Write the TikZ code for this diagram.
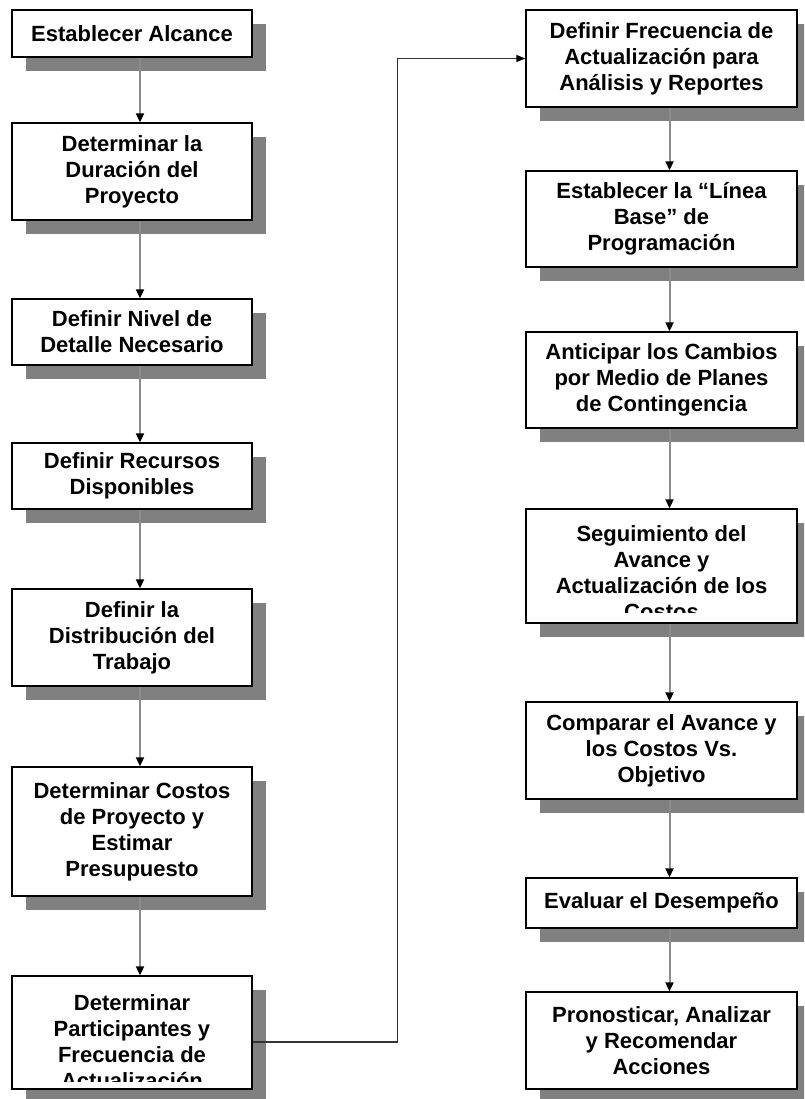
\documentclass[tikz,border=0pt]{standalone}
\usepackage{fontspec}
\setmainfont{Liberation Sans}
\usetikzlibrary{arrows.meta,shadows}

\tikzset{
  boxtext/.style={font=\bfseries\fontsize{22}{26}\selectfont, align=center, inner sep=0pt},
  stepbox/.style={boxtext, draw=black, line width=1.4pt, fill=white,
    minimum height=#1,
    drop shadow={shadow xshift=14pt, shadow yshift=-14pt, fill=black!50, opacity=1}},
  leftbox/.style={stepbox=#1, minimum width=240pt},
  rightbox/.style={stepbox=#1, minimum width=271pt},
  flowline/.style={draw=black!45, line width=2pt, -{Triangle[length=9pt,width=8pt,color=black]}},
  linkline/.style={draw=black!80, line width=1.4pt, -{Triangle[length=9pt,width=7pt,color=black]}},
  cuttext/.style n args={3}{path picture={
    \clip ([yshift=#2]path picture bounding box.south west) rectangle (path picture bounding box.north east);
    \node[boxtext, anchor=north] at ([yshift=-#1]path picture bounding box.north) {#3};}}
}

\begin{document}
\begin{tikzpicture}[x=1pt, y=-1pt]
  \clip (0,0) rectangle (804,1099);

  % left column
  \node[leftbox=47pt]  (l1) at (132,33.5)  {Establecer Alcance};
  \node[leftbox=97pt]  (l2) at (132,171.5) {Determinar la\\Duración del\\Proyecto};
  \node[leftbox=66pt]  (l3) at (132,332)   {Definir Nivel de\\Detalle Necesario};
  \node[leftbox=66pt]  (l4) at (132,476)   {Definir Recursos\\Disponibles};
  \node[leftbox=97pt]  (l5) at (132,637.5) {Definir la\\Distribución del\\Trabajo};
  \node[leftbox=129pt] (l6) at (132,831.5) {Determinar Costos\\de Proyecto y\\Estimar\\Presupuesto};
  \node[leftbox=113pt, cuttext={8pt}{8pt}{Determinar\\Participantes y\\Frecuencia de\\Actualización}]
       (l7) at (132,1032.5) {};

  % right column
  \node[rightbox=97pt]  (r1) at (661.5,58.5)  {Definir Frecuencia de\\Actualización para\\Análisis y Reportes};
  \node[rightbox=96pt]  (r2) at (661.5,219)   {Establecer la “Línea\\Base” de\\Programación};
  \node[rightbox=96pt]  (r3) at (661.5,380)   {Anticipar los Cambios\\por Medio de Planes\\de Contingencia};
  \node[rightbox=114pt, cuttext={6pt}{11pt}{Seguimiento del\\Avance y\\Actualización de los\\Costos}]
       (r4) at (661.5,566) {};
  \node[rightbox=97pt]  (r5) at (661.5,750.5) {Comparar el Avance y\\los Costos Vs.\\Objetivo};
  \node[rightbox=50pt]  (r6) at (661.5,903)   {Evaluar el Desempeño};
  \node[rightbox=97pt]  (r7) at (661.5,1040.5) {Pronosticar, Analizar\\y Recomendar\\Acciones};

  % connectors
  \foreach \a/\b in {l1/l2, l2/l3, l3/l4, l4/l5, l5/l6, l6/l7, r1/r2, r2/r3, r3/r4, r4/r5, r5/r6, r6/r7}
    \draw[flowline] ([xshift=8pt]\a.south) -- ([xshift=8pt]\b.north);

  \draw[linkline] ([yshift=-9.5pt]l7.east) -- ++(145,0) |- (r1.west);
\end{tikzpicture}
\end{document}
